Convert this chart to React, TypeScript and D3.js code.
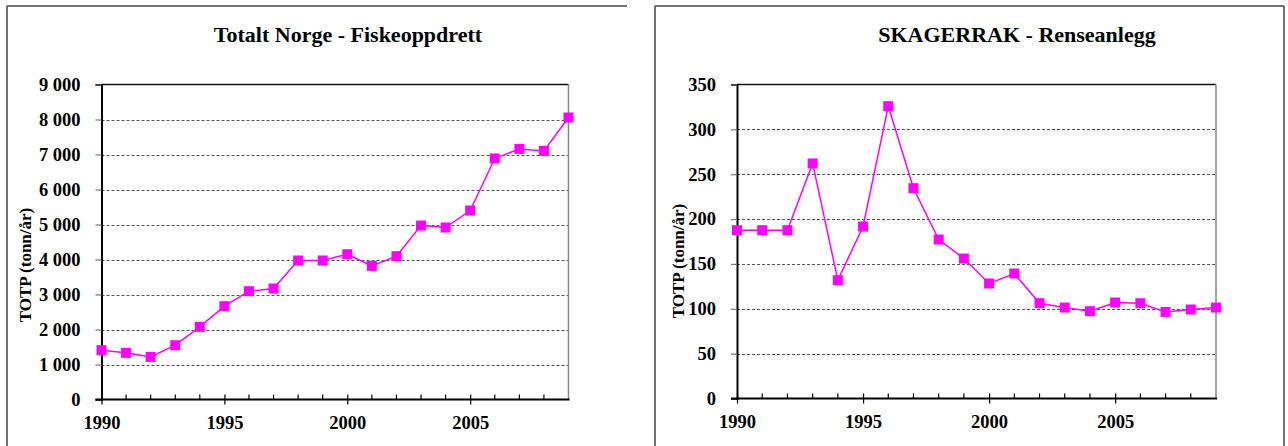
import React, { useEffect, useRef } from 'react';
import * as d3 from 'd3';

const years = d3.range(1990, 2010);
const norgeValues = [1409, 1333, 1217, 1551, 2075, 2666, 3094, 3171, 3971, 3971, 4151, 3817, 4094, 4971, 4914, 5400, 6886, 7160, 7103, 8057];
const skagerrakValues = [187.6, 187.6, 187.6, 262, 131.9, 191.7, 325.8, 234.4, 177.2, 156, 128.2, 139.3, 106.2, 101.4, 97.3, 107, 106.2, 96.5, 99.2, 101.4];
const norgeTicks = [0, 1000, 2000, 3000, 4000, 5000, 6000, 7000, 8000, 9000];
const skagerrakTicks = [0, 50, 100, 150, 200, 250, 300, 350];
const yearLabels = [1990, 1995, 2000, 2005];

const FONT = '"Liberation Serif", "Times New Roman", serif';

interface PanelCfg {
  title: string;
  values: number[];
  ticks: number[];
  yMax: number;
  box: [number, number, number, number]; // panel frame left, top, right, has right edge
  plot: { left: number; right: number; top: number; bottom: number };
  titleX: number;
  yLabelX: number;
  yLabelY: number;
  fmt: (v: number) => string;
}

const spaceFmt = (v: number) => d3.format(',')(v).replace(/,/g, ' ');

const panels: PanelCfg[] = [
  {
    title: 'Totalt Norge - Fiskeoppdrett',
    values: norgeValues,
    ticks: norgeTicks,
    yMax: 9000,
    box: [7, 6, 627, 0],
    plot: { left: 101.5, right: 568.5, top: 84.5, bottom: 399.5 },
    titleX: 348,
    yLabelX: 25,
    yLabelY: 265,
    fmt: spaceFmt,
  },
  {
    title: 'SKAGERRAK - Renseanlegg',
    values: skagerrakValues,
    ticks: skagerrakTicks,
    yMax: 350,
    box: [655, 6, 1284, 1],
    plot: { left: 737, right: 1216, top: 84.5, bottom: 398.5 },
    titleX: 1017,
    yLabelX: 678,
    yLabelY: 261,
    fmt: (v) => String(v),
  },
];

const App: React.FC = () => {
  const svgRef = useRef<SVGSVGElement>(null);

  useEffect(() => {
    if (!svgRef.current) return;
    const svg = d3.select(svgRef.current);
    svg.selectAll('*').remove();

    panels.forEach((p) => {
      const g = svg.append('g');
      const [bl, bt, br, hasRight] = p.box;

      // panel frame
      g.append('line').attr('x1', bl).attr('x2', bl).attr('y1', bt).attr('y2', 446)
        .attr('stroke', '#444').attr('stroke-width', 1.5);
      g.append('line').attr('x1', bl).attr('x2', br).attr('y1', bt).attr('y2', bt)
        .attr('stroke', '#444').attr('stroke-width', 1.5);
      if (hasRight) {
        g.append('line').attr('x1', br).attr('x2', br).attr('y1', bt).attr('y2', 446)
          .attr('stroke', '#444').attr('stroke-width', 1.5);
      }

      const x = d3.scaleLinear().domain([1990, 2009]).range([p.plot.left, p.plot.right]);
      const y = d3.scaleLinear().domain([0, p.yMax]).range([p.plot.bottom, p.plot.top]);

      // title
      g.append('text')
        .attr('x', p.titleX).attr('y', 42)
        .attr('text-anchor', 'middle')
        .style('font-family', FONT).style('font-weight', 'bold').style('font-size', '22px')
        .text(p.title);

      // gridlines
      g.selectAll('line.grid')
        .data(p.ticks.filter((t) => t > 0 && t < p.yMax))
        .enter().append('line')
        .attr('class', 'grid')
        .attr('x1', p.plot.left).attr('x2', p.plot.right)
        .attr('y1', (d) => Math.round(y(d)) + 0.5).attr('y2', (d) => Math.round(y(d)) + 0.5)
        .attr('stroke', '#555').attr('stroke-width', 1).attr('stroke-dasharray', '3,2');

      // top + right frame of plot area
      g.append('line').attr('x1', p.plot.left).attr('x2', p.plot.right)
        .attr('y1', p.plot.top).attr('y2', p.plot.top)
        .attr('stroke', '#111').attr('stroke-width', 1.5);
      g.append('line').attr('x1', p.plot.right).attr('x2', p.plot.right)
        .attr('y1', p.plot.top).attr('y2', p.plot.bottom)
        .attr('stroke', '#888').attr('stroke-width', 1.5);

      // y axis
      const yAxis = d3.axisLeft(y).tickValues(p.ticks).tickSize(6).tickPadding(15).tickFormat((d) => p.fmt(d as number));
      const ya = g.append('g').attr('transform', `translate(${p.plot.left},0)`).call(yAxis);
      ya.attr('font-family', null);
      ya.select('.domain').attr('stroke', '#000').attr('stroke-width', 2);
      ya.selectAll('.tick line').attr('stroke', '#777').attr('stroke-width', 1.2);
      ya.selectAll('.tick text')
        .style('font-family', FONT).style('font-weight', 'bold').style('font-size', '18.5px').attr('fill', '#000');

      // x axis: minor ticks inside, major crossing
      const xa = g.append('g').attr('transform', `translate(0,${p.plot.bottom})`)
        .call(d3.axisBottom(x).tickValues(yearLabels).tickSize(5).tickPadding(11).tickFormat(d3.format('d')));
      xa.attr('font-family', null);
      xa.select('.domain').remove();
      xa.selectAll('.tick line').attr('y1', -5).attr('stroke', '#000').attr('stroke-width', 1.2);
      xa.selectAll('.tick text')
        .style('font-family', FONT).style('font-weight', 'bold').style('font-size', '18.5px').attr('fill', '#000');
      g.selectAll('line.minor')
        .data(years.filter((yr) => !yearLabels.includes(yr) && yr !== 2009))
        .enter().append('line')
        .attr('class', 'minor')
        .attr('x1', (d) => x(d)).attr('x2', (d) => x(d))
        .attr('y1', p.plot.bottom - 5).attr('y2', p.plot.bottom)
        .attr('stroke', '#000').attr('stroke-width', 1.2);
      g.append('line').attr('x1', p.plot.left - 6).attr('x2', p.plot.right + 1)
        .attr('y1', p.plot.bottom).attr('y2', p.plot.bottom)
        .attr('stroke', '#000').attr('stroke-width', 2);

      // y label
      g.append('text')
        .attr('transform', `translate(${p.yLabelX},${p.yLabelY}) rotate(-90)`)
        .attr('text-anchor', 'middle').attr('dy', '0.35em')
        .style('font-family', FONT).style('font-weight', 'bold').style('font-size', '17px')
        .text('TOTP (tonn/år)');

      // series
      const line = d3.line<number>().x((_, i) => x(years[i])).y((d) => y(d));
      g.append('path').datum(p.values)
        .attr('d', line).attr('fill', 'none')
        .attr('stroke', '#FF00FF').attr('stroke-width', 1.5);
      g.selectAll('rect.pt')
        .data(p.values)
        .enter().append('rect')
        .attr('class', 'pt')
        .attr('x', (_, i) => x(years[i]) - 5).attr('y', (d) => y(d) - 5)
        .attr('width', 10).attr('height', 10)
        .attr('fill', '#FF00FF');
    });
  }, []);

  return (
    <svg
      ref={svgRef}
      width={1288}
      height={446}
      style={{ position: 'absolute', left: 0, top: 0, background: '#fff' }}
    />
  );
};

export default App;
